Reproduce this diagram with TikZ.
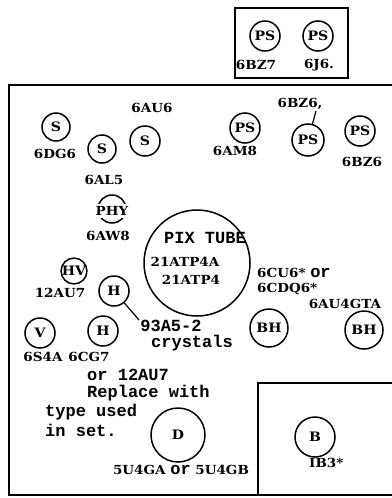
\documentclass[tikz,border=0pt]{standalone}
\usepackage{fontspec}
\newfontfamily\serb{DejaVu Serif}[FakeStretch=1.08]
\newfontfamily\monb{Liberation Mono}
\tikzset{
  tube/.style={circle, draw, line width=1.5pt, inner sep=0pt, font=\serb\bfseries\fontsize{13}{13}\selectfont},
  lab/.style={font=\serb\bfseries\fontsize{12.5}{12.5}\selectfont, inner sep=0pt},
  tw/.style={font=\monb\bfseries\fontsize{17}{17}\selectfont, inner sep=0pt},
  frame/.style={line width=1.9pt},
  lead/.style={line width=1.2pt}
}
\begin{document}
\begin{tikzpicture}[x=1pt,y=-1pt]
\useasboundingbox (0,0) rectangle (391,498);
% frames
\draw[frame] (235,8) rectangle (348,78);
\draw[frame] (395,85) -- (9,85) -- (9,495) -- (395,495);
\draw[frame] (258,495) -- (258,383) -- (395,383);
% top box
\node[tube, minimum size=30pt] (psa) at (265,36) {PS};
\node[tube, minimum size=30pt] (psb) at (318,36) {PS};
\node[lab] (l6bz7) at (256,65) {6BZ7};
\node[lab] (l6j6) at (319,65) {6J6.};
% upper row
\node[lab] (l6au6) at (152,108) {6AU6};
\node[tube, minimum size=28pt] (s1) at (56,127) {S};
\node[lab] (l6dg6) at (55,154) {6DG6};
\node[tube, minimum size=28pt] (s2) at (102,149) {S};
\node[lab] (l6al5) at (104,180) {6AL5};
\node[tube, minimum size=30pt] (s3) at (145,141) {S};
\node[tube, minimum size=30pt] (ps1) at (245,128) {PS};
\node[lab] (l6am8) at (235,151) {6AM8};
\node[lab] (l6bz6a) at (300,104) {6BZ6,};
\coordinate (c1) at (316,111);
\node[tube, minimum size=32pt] (ps2) at (308,140) {PS};
\draw[lead] (c1) -- (ps2);
\node[tube, minimum size=30pt] (ps3) at (360,131) {PS};
\node[lab] (l6bz6b) at (362,162) {6BZ6};
% PHY
\node[tube, minimum size=28pt] (phy) at (112,209) {};
\node[lab, fill=white, inner xsep=0pt, inner ysep=2.5pt] (phyt) at (112,211) {PHY};
\node[lab] (l6aw8) at (108,236) {6AW8};
% pix tube
\node[circle, draw, line width=1.5pt, minimum size=106pt] (pix) at (197,263) {};
\node[tw] (pixt) at (205,238) {PIX TUBE};
\node[lab] (p1) at (185,262) {21ATP4A};
\node[lab] (p2) at (191,280) {21ATP4};
% HV and H
\node[tube, minimum size=24pt] (hv) at (74,271) {HV};
\node[lab] (l12au7) at (60,293) {12AU7};
\node[tube, minimum size=30pt] (h1) at (114,291) {H};
\coordinate (c2) at (139,320);
\draw[lead] (h1) -- (c2);
\node[tw] (cr1) at (171,326) {93A5-2};
\node[tw] (cr2) at (192,343) {crystals};
% right middle
\node[lab, anchor=west] (cu6) at (257,273) {6CU6* {\monb\bfseries\fontsize{17}{17}\selectfont or}};
\node[lab, anchor=west] (cdq6) at (257,289) {6CDQ6*};
\node[lab] (au4) at (345,304) {6AU4GTA};
\node[tube, minimum size=38pt] (bh1) at (269,328) {BH};
\node[tube, minimum size=38pt] (bh2) at (364,330) {BH};
% lower left
\node[tube, minimum size=30pt] (v) at (40,333) {V};
\node[lab] (l6s4a) at (43,357) {6S4A};
\node[tube, minimum size=30pt] (h2) at (103,331) {H};
\node[lab] (l6cg7) at (89,357) {6CG7};
\node[tw, anchor=west] (t1) at (87,375) {or 12AU7};
\node[tw, anchor=west] (t2) at (87,393) {Replace with};
\node[tw, anchor=west] (t3) at (45,412) {type used};
\node[tw, anchor=west] (t4) at (45,430) {in set.};
% damper
\node[tube, minimum size=54pt] (d) at (178,435) {D};
\node[lab] (l5u4) at (181,470) {5U4GA {\monb\bfseries\fontsize{17}{17}\selectfont or} 5U4GB};
% booster
\node[tube, minimum size=40pt] (b) at (315,437) {B};
\node[lab, anchor=west] (l1b3) at (309,463) {IB3*};
\end{tikzpicture}
\end{document}
